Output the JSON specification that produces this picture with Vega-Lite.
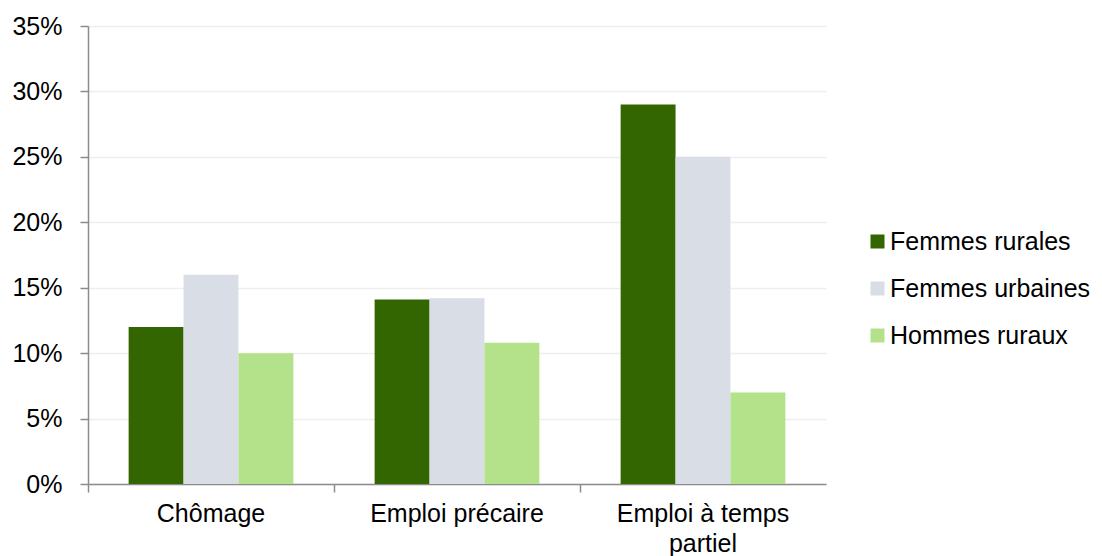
{
  "$schema": "https://vega.github.io/schema/vega-lite/v6.json",
  "width": 738,
  "height": 458,
  "padding": {"left": 88, "top": 26, "right": 276, "bottom": 72},
  "autosize": {"type": "none"},
  "background": "white",
  "config": {
    "view": {"stroke": null},
    "font": "Liberation Sans",
    "axis": {"labelFont": "Liberation Sans", "labelFontSize": 25, "labelColor": "#000000", "domainColor": "#8c8c8c", "tickColor": "#8c8c8c", "domainWidth": 1.5, "tickWidth": 1.5}
  },
  "data": {
    "values": [
      {"cat": "Chômage", "serie": "Femmes rurales", "v": 0.12},
      {"cat": "Chômage", "serie": "Femmes urbaines", "v": 0.16},
      {"cat": "Chômage", "serie": "Hommes ruraux", "v": 0.10},
      {"cat": "Emploi précaire", "serie": "Femmes rurales", "v": 0.141},
      {"cat": "Emploi précaire", "serie": "Femmes urbaines", "v": 0.142},
      {"cat": "Emploi précaire", "serie": "Hommes ruraux", "v": 0.108},
      {"cat": "Emploi à temps partiel", "serie": "Femmes rurales", "v": 0.29},
      {"cat": "Emploi à temps partiel", "serie": "Femmes urbaines", "v": 0.25},
      {"cat": "Emploi à temps partiel", "serie": "Hommes ruraux", "v": 0.07}
    ]
  },
  "mark": {"type": "bar"},
  "encoding": {
    "x": {
      "field": "cat", "type": "nominal",
      "sort": ["Chômage", "Emploi précaire", "Emploi à temps partiel"],
      "scale": {"paddingInner": 0, "paddingOuter": 0},
      "axis": {
        "title": null, "labelAngle": 0, "bandPosition": 0, "tickSize": 8, "labelPadding": 9,
        "grid": false, "labelBaseline": "top", "labelFontSize": 25, "labelLimit": 0,
        "labelExpr": "datum.label == 'Emploi à temps partiel' ? ['Emploi à temps', 'partiel'] : datum.label",
        "labelLineHeight": 30
      }
    },
    "xOffset": {
      "field": "serie", "type": "nominal",
      "scale": {"paddingInner": 0, "paddingOuter": 0.74}
    },
    "y": {
      "field": "v", "type": "quantitative",
      "scale": {"domain": [0, 0.35], "nice": false},
      "axis": {
        "title": null, "format": ".0%", "values": [0, 0.05, 0.1, 0.15, 0.2, 0.25, 0.3, 0.35],
        "tickSize": 8, "labelPadding": 18, "labelFontSize": 25, "gridColor": "#eeeeee", "gridWidth": 1.5
      }
    },
    "color": {
      "field": "serie", "type": "nominal",
      "scale": {"domain": ["Femmes rurales", "Femmes urbaines", "Hommes ruraux"], "range": ["#336600", "#d9dde5", "#b3e28a"]},
      "legend": {
        "title": null, "orient": "none", "legendX": 777, "legendY": 203,
        "symbolType": "square", "symbolSize": 196, "symbolStrokeWidth": 0,
        "labelFontSize": 25, "labelFont": "Liberation Sans", "labelColor": "#000000", "labelLimit": 0,
        "rowPadding": 21, "labelOffset": 0
      }
    }
  }
}
